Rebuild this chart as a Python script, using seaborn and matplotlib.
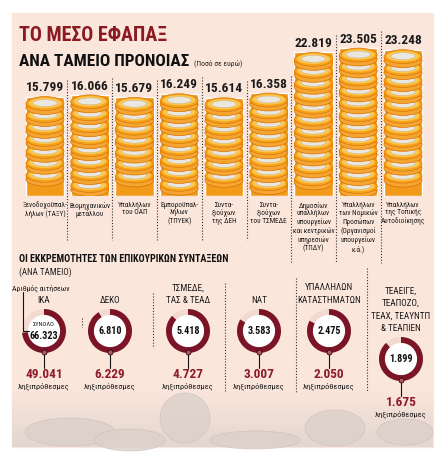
import numpy as np
import pandas as pd
import matplotlib
matplotlib.use("Agg")
import matplotlib.pyplot as plt
import seaborn as sns
from matplotlib import font_manager as fm
from matplotlib.patches import Ellipse, Rectangle, Circle
from matplotlib.colors import LinearSegmentedColormap

# data
fund_labels = [
    "Ξενοδοχοϋπαλ-\nλήλων (ΤΑΞΥ)",
    "Βιομηχανικών\nμετάλλου",
    "Υπαλλήλων\nτου ΟΑΠ",
    "Εμποροϋπαλ-\nλήλων\n(ΤΠΥΕΚ)",
    "Συντα-\nξιούχων\nτης ΔΕΗ",
    "Συντα-\nξιούχων\nτου ΤΣΜΕΔΕ",
    "Δημοσίων\nυπαλλήλων\nυπουργείων\nκαι κεντρικών\nυπηρεσιών\n(ΤΠΔΥ)",
    "Υπαλλήλων\nτων Νομικών\nΠροσώπων\n(Οργανισμοί\nυπουργείων\nκ.ά.)",
    "Υπαλλήλων\nτης Τοπικής\nΑυτοδιοίκησης",
]
lump_sums = [15799, 16066, 15679, 16249, 15614, 16358, 22819, 23505, 23248]

aux_funds = ["ΙΚΑ", "ΔΕΚΟ", "ΤΣΜΕΔΕ,\nΤΑΣ & ΤΕΑΔ", "ΝΑΤ",
             "ΥΠΑΛΛΗΛΩΝ\nΚΑΤΑΣΤΗΜΑΤΩΝ",
             "ΤΕΑΕΙΓΕ,\nΤΕΑΠΟΖΟ,\nΤΕΑΧ, ΤΕΑΥΝΤΠ\n& ΤΕΑΠΙΕΝ"]
aux_total = [66323, 6810, 5418, 3583, 2475, 1899]
aux_overdue = [49041, 6229, 4727, 3007, 2050, 1675]

W, H = 443, 455
PINK = "#fbe6dc"
DARK = "#7b1426"
PALE = "#f4d9d1"
RED = "#8e1b2a"

sns.set_theme(style="white")
avail = {f.name for f in fm.fontManager.ttflist}
narrow = next((f for f in ["Liberation Sans Narrow", "DejaVu Sans Condensed",
                           "Roboto Condensed", "Open Sans Condensed"] if f in avail), "Roboto")
plt.rcParams["font.family"] = [narrow, "DejaVu Sans"]


def fmt(v):
    return f"{v:,}".replace(",", ".")


fig = plt.figure(figsize=(W / 100, H / 100), dpi=100)


def px_axes(x0, y0, x1, y1):
    return fig.add_axes([x0 / W, 1 - y1 / H, (x1 - x0) / W, (y1 - y0) / H])


# background panel + faded photo strip at the bottom
bg = fig.add_axes([0, 0, 1, 1])
bg.set_autoscale_on(False)
bg.set_xlim(0, W)
bg.set_ylim(H, 0)
bg.axis("off")
bg.add_patch(Rectangle((12, 13), 421, 434, color=PINK, zorder=0))
cm = LinearSegmentedColormap.from_list("fade", [PINK, "#e2d6d0"])
grad = np.linspace(0, 1, 60)[:, None]
bg.imshow(grad, extent=[12, 433, 447, 388], cmap=cm, aspect="auto", zorder=0.5)
for (ex, ey, ew, eh) in [(70, 432, 90, 28), (130, 440, 70, 22), (185, 418, 50, 50),
                         (255, 440, 90, 18), (335, 428, 60, 36), (405, 432, 56, 26)]:
    bg.add_patch(Ellipse((ex, ey), ew, eh, fc="#dcd0ca", ec="#cdc0b9", lw=0.5,
                         alpha=0.8, zorder=0.6))
bg.set_xlim(0, W)
bg.set_ylim(H, 0)

# coin stacks (bar chart)
y_top, y_bot, ymax = 45, 196, 24000
bar_ax = px_axes(22.6, y_top, 425.4, y_bot)
df = pd.DataFrame({"fund": fund_labels, "amount": lump_sums})
sns.barplot(data=df, x="fund", y="amount", ax=bar_ax, color="#f29a1a",
            width=0.85, saturation=1)
bar_ax.set_ylim(0, ymax)
bar_ax.set_xlim(-0.5, 8.5)
bar_ax.patch.set_alpha(0)
for s in bar_ax.spines.values():
    s.set_visible(False)
bar_ax.set_yticks([])
bar_ax.set_xlabel("")
bar_ax.set_ylabel("")
bar_ax.tick_params(axis="x", length=0, pad=4, labelsize=5.2, labelcolor="#1a1a1a")
for lbl in bar_ax.get_xticklabels():
    lbl.set_linespacing(1.15)

fh, step, th = 2200, 1900, 640
for p in bar_ax.patches:
    x0, w, h = p.get_x(), p.get_width(), p.get_height()
    xc = x0 + w / 2
    centers = []
    c = h - fh / 2
    while c - fh / 2 - th > -300:
        centers.append(c)
        c -= step
    for c in reversed(centers):
        bar_ax.add_patch(Ellipse((xc, c - th), w, fh, fc="#f5a531", ec="#d96f05", lw=0.5))
        bar_ax.add_patch(Rectangle((x0, c - th), w, th, fc="#ee8a0c", ec="none"))
        bar_ax.add_patch(Ellipse((xc, c), w, fh, fc="#f7a21b", ec="#d9770a", lw=0.5))
        bar_ax.add_patch(Ellipse((xc, c + 80), w * 0.86, fh * 0.74, fc="#fdc850", ec="none"))
        bar_ax.add_patch(Ellipse((xc, c + 80), w * 0.64, fh * 0.5, fc="#eae7e0",
                                 ec="#bfae90", lw=0.3))
for i, v in enumerate(lump_sums):
    bar_ax.text(i, v + 380, fmt(v), ha="center", va="bottom", fontsize=9.6,
                fontweight="bold", color="#1a1a1a", clip_on=False)

# donuts
r = 22
centers_xy = [(44, 331), (110, 331), (188, 331), (259, 331), (329, 331), (401, 359)]
for (cx, cy), tot, od in zip(centers_xy, aux_total, aux_overdue):
    ax = px_axes(cx - r, cy - r, cx + r, cy + r)
    ax.pie([od, tot - od], colors=[DARK, PALE], startangle=90, counterclock=False,
           radius=1, wedgeprops=dict(width=0.3, linewidth=0))
    ax.add_patch(Circle((0, 0), 0.7, color="white"))
    ax.set_xlim(-1, 1)
    ax.set_ylim(-1, 1)

# overlay for text and rules
top = fig.add_axes([0, 0, 1, 1])
top.set_xlim(0, W)
top.set_ylim(H, 0)
top.axis("off")
top.patch.set_alpha(0)
renderer = fig.canvas.get_renderer()


def fit(t, width):
    bb = t.get_window_extent(renderer)
    t.set_fontsize(t.get_fontsize() * width / bb.width)


fit(top.text(19, 41, "ΤΟ ΜΕΣΟ ΕΦΑΠΑΞ", color="#8b1a22", fontweight="bold",
             fontsize=20, va="baseline"), 149)
fit(top.text(19, 66, "ΑΝΑ ΤΑΜΕΙΟ ΠΡΟΝΟΙΑΣ", color="#111111", fontweight="bold",
             fontsize=18, va="baseline"), 171)
top.text(194, 65, "(Ποσό σε ευρώ)", fontsize=5.5, color="#222222", va="baseline")
fit(top.text(19, 262, "ΟΙ ΕΚΚΡΕΜΟΤΗΤΕΣ ΤΩΝ ΕΠΙΚΟΥΡΙΚΩΝ ΣΥΝΤΑΞΕΩΝ", color="#111111",
             fontweight="bold", fontsize=11, va="baseline"), 209)
top.text(19, 275, "(ΑΝΑ ΤΑΜΕΙΟ)", fontsize=6.5, color="#222222", va="baseline")

# dotted separators between the coin stacks
n_lines = [s.count("\n") + 1 for s in fund_labels]
for i in range(len(lump_sums) - 1):
    x = 22.6 + (i + 1) * 44.8
    t0 = y_bot - lump_sums[i] * (y_bot - y_top) / ymax - 17
    b0 = max(240, 203 + 9 * max(n_lines[i], n_lines[i + 1]) + 6)
    top.plot([x, x], [t0, b0], color="#333333", lw=0.8, ls=(0, (1, 1.6)))

# dotted separators between the donuts
for x, a, b in [(82, 318, 327), (153, 293, 348), (225, 283, 392), (296, 278, 392), (367, 268, 392)]:
    top.plot([x, x], [a, b], color="#333333", lw=0.8, ls=(0, (1, 1.6)))

for (cx, cy), name, tot, od in zip(centers_xy, aux_funds, aux_total, aux_overdue):
    top.text(cx, cy - r - 4, name, ha="center", va="bottom", fontsize=6.6,
             linespacing=1.5, color="#1a1a1a")
    if tot == aux_total[0]:
        top.text(cx, cy - 6, "ΣΥΝΟΛΟ", ha="center", va="center", fontsize=4.6, color="#111111")
        top.text(cx, cy + 5, fmt(tot), ha="center", va="center", fontsize=7.3,
                 fontweight="bold", color="#111111")
    else:
        top.text(cx, cy, fmt(tot), ha="center", va="center", fontsize=7.3,
                 fontweight="bold", color="#111111")
    top.plot([cx, cx], [cy + r, cy + r + 15], color="#111111", lw=0.8)
    top.plot(cx, cy + r - 1, "o", ms=3.6, mfc="#b45a68", mec="#2a0508", mew=0.6)
    top.text(cx, cy + r + 22, fmt(od), ha="center", va="center", fontsize=9.5,
             fontweight="bold", color=RED)
    top.text(cx, cy + r + 33, "ληξιπρόθεσμες", ha="center", va="center",
             fontsize=6, color="#1a1a1a")

top.text(41, 288, "Αριθμός αιτήσεων", ha="center", va="center", fontsize=5.6, color="#1a1a1a")
top.plot([23, 23, 29], [292, 331, 331], color="#111111", lw=0.8)

fig.savefig("out.png", dpi=100)
